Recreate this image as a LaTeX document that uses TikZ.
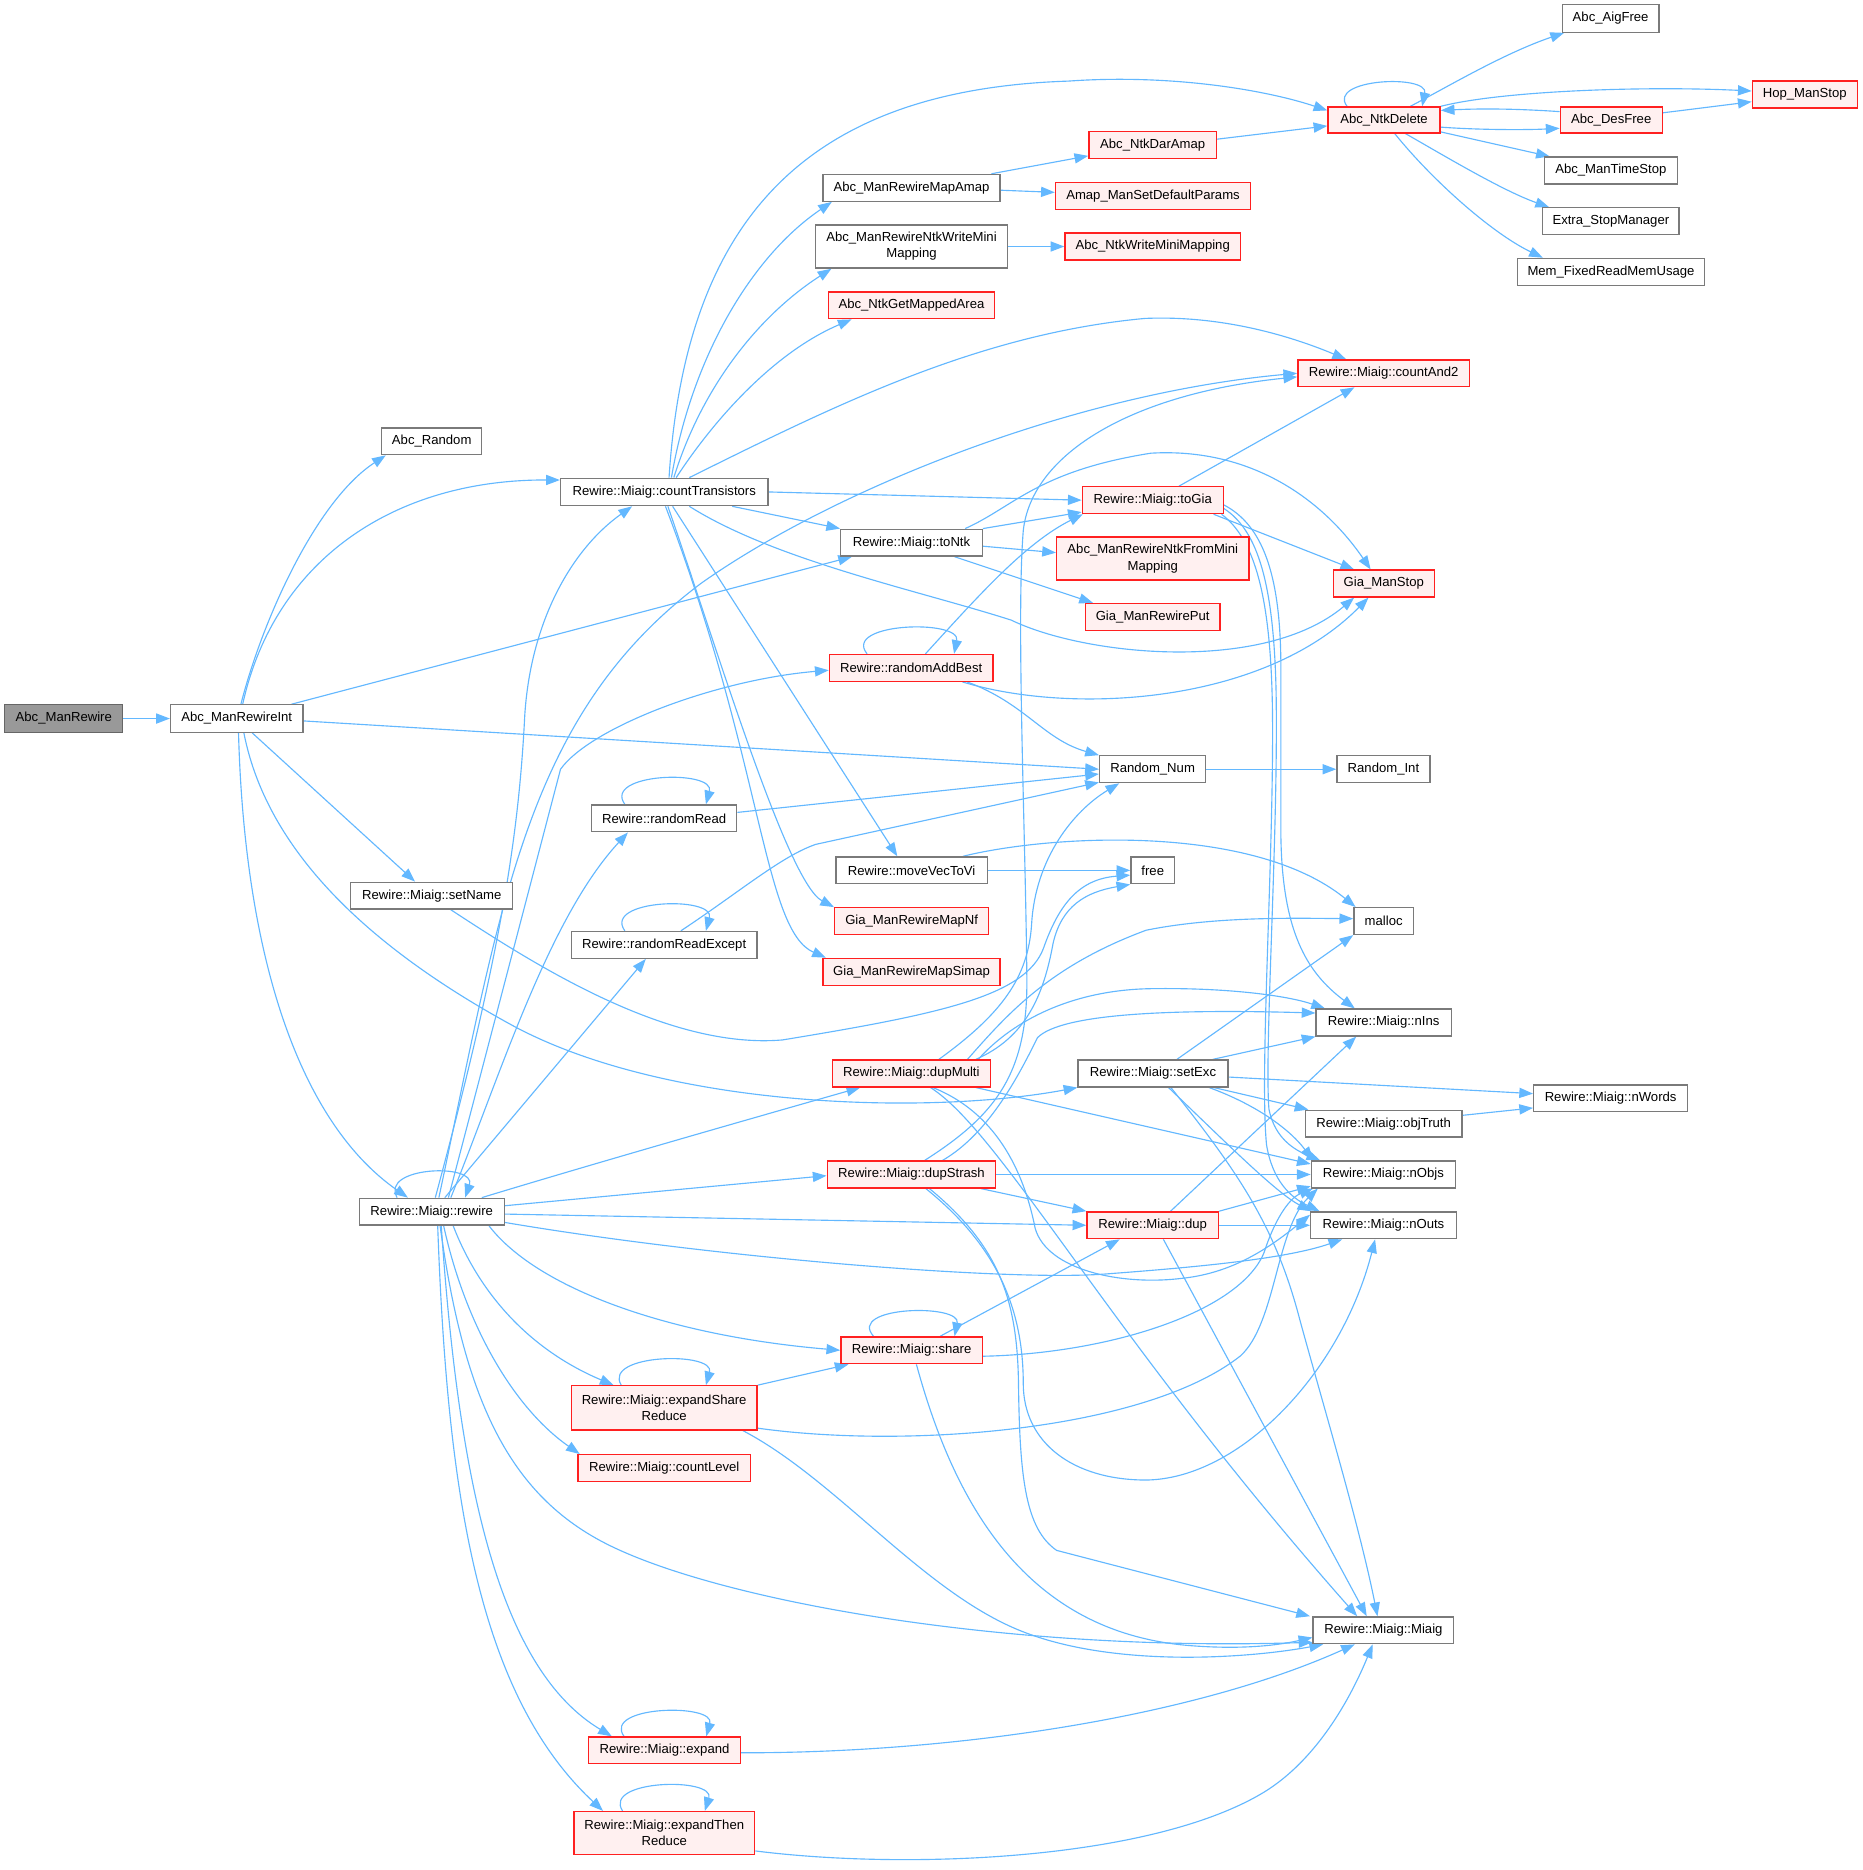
\documentclass[tikz,border=0pt]{standalone}
\usepackage{fontspec}
\setmainfont{Liberation Sans}
\usetikzlibrary{arrows.meta,backgrounds}
\definecolor{eblue}{HTML}{63B8FF}
\definecolor{rfill}{HTML}{FFF0F0}
\definecolor{gbord}{HTML}{7A7A7A}
\definecolor{rootfill}{HTML}{999999}
\definecolor{rootbord}{HTML}{666666}
\definecolor{rbord}{HTML}{FF2020}
\tikzset{
  nb/.style={draw=gbord, line width=1.1pt, fill=white, inner sep=0pt, minimum height=22.5pt,
             font=\fontsize{11}{13.5}\selectfont, align=center},
  nr/.style={nb, draw=rbord, fill=rfill},
  root/.style={nb, draw=rootbord, fill=rootfill},
  e/.style={draw=eblue, line width=0.95pt, -{Triangle[length=11.5pt,width=8.5pt]}},
}
\begin{document}
\begin{tikzpicture}[x=1pt,y=-1pt]
\useasboundingbox (0,0) rectangle (1562,1568);
% nodes
\node[root, minimum width=99pt, minimum height=23pt] (mr) at (53.5,602.5) {Abc\_ManRewire};
\node[nb, minimum width=111pt, minimum height=23pt] (mri) at (198.5,602.5) {Abc\_ManRewireInt};
\node[nb, minimum width=84pt] (rnd) at (362,370) {Abc\_Random};
\node[nb, minimum width=174pt, minimum height=23pt] (ct) at (557,412.5) {Rewire::Miaig::countTransistors};
\node[nb, minimum width=136pt] (sn) at (362,751) {Rewire::Miaig::setName};
\node[nb, minimum width=121.5pt] (rw) at (362,1016) {Rewire::Miaig::rewire};
\node[nb, minimum width=148.5pt] (amap) at (764.3,157.5) {Abc\_ManRewireMapAmap};
\node[nb, minimum width=161.3pt, minimum height=36.2pt] (wmm) at (764.3,206.7) {Abc\_ManRewireNtkWriteMini\\Mapping};
\node[nr, minimum width=139.3pt] (gma) at (764.3,256) {Abc\_NtkGetMappedArea};
\node[nb, minimum width=118.7pt] (tontk) at (764.3,455) {Rewire::Miaig::toNtk};
\node[nr, minimum width=137.2pt] (rab) at (764,560) {Rewire::randomAddBest};
\node[nb, minimum width=121.7pt] (rr) at (556.9,686.2) {Rewire::randomRead};
\node[nb, minimum width=155.7pt] (rre) at (556.9,792.3) {Rewire::randomReadExcept};
\node[nb, minimum width=126.8pt] (mv) at (764.4,729.8) {Rewire::moveVecToVi};
\node[nr, minimum width=129.1pt] (mnf) at (764.4,772.4) {Gia\_ManRewireMapNf};
\node[nr, minimum width=148.5pt] (msimap) at (764.3,814.8) {Gia\_ManRewireMapSimap};
\node[nr, minimum width=132.7pt] (dm) at (764.2,900.1) {Rewire::Miaig::dupMulti};
\node[nr, minimum width=141.4pt] (ds) at (764.3,984.8) {Rewire::Miaig::dupStrash};
\node[nr, minimum width=118.7pt] (sh) at (764.4,1132.2) {Rewire::Miaig::share};
\node[nr, minimum width=155.7pt, minimum height=37pt] (esr) at (556.9,1180.5) {Rewire::Miaig::expandShare\\Reduce};
\node[nr, minimum width=144.7pt] (cl) at (557,1231) {Rewire::Miaig::countLevel};
\node[nr, minimum width=127.3pt] (ex) at (557.2,1467.7) {Rewire::Miaig::expand};
\node[nr, minimum width=151.6pt, minimum height=36pt] (etr) at (557,1537) {Rewire::Miaig::expandThen\\Reduce};
\node[nr, minimum width=107pt] (dar) at (966.5,121.7) {Abc\_NtkDarAmap};
\node[nr, minimum width=163.6pt] (amsp) at (966.8,164.3) {Amap\_ManSetDefaultParams};
\node[nr, minimum width=147.1pt] (nwmm) at (966.5,206.7) {Abc\_NtkWriteMiniMapping};
\node[nr, minimum width=94pt, minimum height=21.8pt] (nd) at (1160.5,100.6) {Abc\_NtkDelete};
\node[nr, minimum width=143.9pt] (ca) at (1160.2,313) {Rewire::Miaig::countAnd2};
\node[nr, minimum width=118.2pt] (tg) at (966.6,419.4) {Rewire::Miaig::toGia};
\node[nr, minimum width=161.3pt, minimum height=36.1pt] (fmm) at (966.6,468.4) {Abc\_ManRewireNtkFromMini\\Mapping};
\node[nr, minimum width=113pt] (gp) at (966.5,517.3) {Gia\_ManRewirePut};
\node[nr, minimum width=84.6pt] (gs) at (1160.3,489.3) {Gia\_ManStop};
\node[nb, minimum width=89pt] (rn) at (966.5,645) {Random\_Num};
\node[nb, minimum width=78pt] (ri) at (1160,645) {Random\_Int};
\node[nb, minimum width=36.7pt] (fr) at (966.6,729.8) {free};
\node[nb, minimum width=50pt] (ml) at (1160.2,772.3) {malloc};
\node[nb, minimum width=113.3pt] (ni) at (1160.2,857.4) {Rewire::Miaig::nIns};
\node[nb, minimum width=125.8pt] (se) at (966.8,900.1) {Rewire::Miaig::setExc};
\node[nb, minimum width=131.1pt] (ot) at (1160.2,942.2) {Rewire::Miaig::objTruth};
\node[nb, minimum width=129pt] (nw) at (1350.5,921) {Rewire::Miaig::nWords};
\node[nb, minimum width=120.9pt] (no) at (1160,984.8) {Rewire::Miaig::nObjs};
\node[nr, minimum width=110.2pt] (dp) at (966.5,1027.4) {Rewire::Miaig::dup};
\node[nb, minimum width=122pt] (nou) at (1160,1027.4) {Rewire::Miaig::nOuts};
\node[nb, minimum width=118pt] (mg) at (1160,1367) {Rewire::Miaig::Miaig};
\node[nb, minimum width=81pt, minimum height=23pt] (af) at (1350.5,15.5) {Abc\_AigFree};
\node[nr, minimum width=88pt] (hop) at (1513.3,79.3) {Hop\_ManStop};
\node[nr, minimum width=85.5pt, minimum height=21.8pt] (df) at (1351,100.6) {Abc\_DesFree};
\node[nb, minimum width=111.3pt] (mts) at (1350.7,143) {Abc\_ManTimeStop};
\node[nb, minimum width=114.5pt] (esm) at (1350.7,185.5) {Extra\_StopManager};
\node[nb, minimum width=157.2pt] (mem) at (1350.8,227.9) {Mem\_FixedReadMemUsage};
% edges
\begin{scope}[on background layer]
\fill[white] (0,0) rectangle (1562,1568);
\draw[e] (mr.east) -- (mri.west);
\draw[e] ([xshift=3.5pt]mri.north) .. controls (220,520) and (265,420) .. ([xshift=4pt]rnd.south west);
\draw[e] ([xshift=5pt]mri.north) .. controls (230,470) and (330,402) .. ([yshift=10pt]ct.west);
\draw[e] ([xshift=46pt]mri.north) -- ([xshift=10pt]tontk.south west);
\draw[e] ([yshift=-2pt]mri.east) -- (rn.west);
\draw[e] ([xshift=13pt]mri.south) -- ([xshift=-14pt]sn.north);
\draw[e] ([xshift=1.5pt]mri.south) .. controls (205,800) and (250,940) .. ([xshift=-20pt]rw.north);
\draw[e] ([xshift=6pt]mri.south) .. controls (225,720) and (320,800) .. (430,860) .. controls (560,930) and (780,935) .. (se.south west);
% countTransistors
\draw[e] ([xshift=4pt]ct.north) .. controls (575,180) and (680,75) .. (896,68) .. controls (980,62) and (1060,75) .. ([yshift=8pt]nd.west);
\draw[e] ([xshift=6pt]ct.north) .. controls (580,300) and (630,215) .. ([xshift=8pt]amap.south west);
\draw[e] ([xshift=8pt]ct.north) .. controls (590,320) and (640,262) .. ([xshift=14pt]wmm.south west);
\draw[e] ([xshift=10pt]ct.north) .. controls (600,350) and (650,295) .. ([xshift=20pt]gma.south west);
\draw[e] ([xshift=21pt]ct.north) .. controls (700,340) and (820,280) .. (960,267) .. controls (1030,264) and (1090,285) .. ([xshift=41pt]ca.north west);
\draw[e] (ct.east) -- (tg.west);
\draw[e] ([xshift=57pt]ct.south) -- (tontk.north west);
\draw[e] ([xshift=21pt]ct.south) .. controls (650,470) and (770,495) .. (848,520) .. controls (910,550) and (1060,565) .. ([xshift=18pt]gs.south west);
\draw[e] ([xshift=7pt]ct.south) -- ([xshift=-12pt]mv.north);
\draw[e] ([xshift=3pt]ct.south) .. controls (600,540) and (660,740) .. (mnf.north west);
\draw[e] ([xshift=1pt]ct.south) .. controls (640,640) and (640,780) .. ([xshift=3pt]msimap.north west);
% mapping
\draw[e] ([xshift=67pt]amap.north) -- ([yshift=-9pt]dar.west);
\draw[e] ([yshift=-2pt]amap.east) -- ([yshift=3pt]amsp.west);
\draw[e] (wmm.east) -- (nwmm.west);
\draw[e] ([yshift=5pt]dar.east) -- ([yshift=-5pt]nd.west);
% NtkDelete
\draw[e] ([xshift=-31pt]nd.north) .. controls (1112,66) and (1198,62) .. ([xshift=32pt]nd.north);
\draw[e] ([xshift=22pt]nd.north) .. controls (1210,75) and (1260,45) .. ([xshift=2pt]af.south west);
\draw[e] (nd.north east) .. controls (1260,76) and (1380,72) .. ([yshift=3pt]hop.west);
\draw[e] ([yshift=7pt]df.west) .. controls (1270,91) and (1240,91) .. ([yshift=8pt]nd.east);
\draw[e] ([yshift=-6pt]nd.east) .. controls (1240,109) and (1280,109) .. ([yshift=-7pt]df.west);
\draw[e] ([yshift=6pt]df.east) -- ([yshift=-6pt]hop.west);
\draw[e] ([yshift=-10pt]nd.east) -- ([xshift=5pt]mts.north west);
\draw[e] ([xshift=18pt]nd.south) .. controls (1210,130) and (1260,160) .. ([xshift=6pt]esm.north west);
\draw[e] ([xshift=9pt]nd.south) .. controls (1200,150) and (1250,195) .. ([xshift=22pt]mem.north west);
% toNtk
\draw[e] (tontk.north east) -- ([yshift=-10pt]tg.west);
\draw[e] ([yshift=-3pt]tontk.east) -- ([yshift=5pt]fmm.west);
\draw[e] ([xshift=36pt]tontk.south) -- ([xshift=7pt]gp.north west);
\draw[e] ([xshift=45pt]tontk.north) .. controls (850,425) and (870,395) .. (965,380) .. controls (1050,375) and (1110,420) .. ([xshift=-11pt]gs.north);
% toGia
\draw[e] ([xshift=22pt]tg.north) -- ([xshift=48pt]ca.south west);
\draw[e] ([xshift=51pt]tg.south) -- ([xshift=18pt]gs.north west);
\draw[e] ([yshift=-4pt]tg.east) .. controls (1058,440) and (1074,480) .. (1074,560) -- (1074,700) .. controls (1075,780) and (1095,815) .. ([xshift=33pt]ni.north west);
\draw[e] ([yshift=-7pt]tg.east) .. controls (1055,445) and (1068,490) .. (1070,580) .. controls (1072,700) and (1060,880) .. (1064,930) .. controls (1068,950) and (1080,962) .. ([xshift=8pt]no.north west);
\draw[e] ([xshift=-2pt]tg.south east) .. controls (1052,452) and (1066,500) .. (1067,600) .. controls (1068,720) and (1056,900) .. (1062,960) .. controls (1067,990) and (1082,1004) .. ([xshift=8pt]nou.north west);
% randomAddBest
\draw[e] ([xshift=-37pt]rab.north) .. controls (706,522) and (806,519) .. ([xshift=36pt]rab.north);
\draw[e] ([xshift=12pt]rab.north) .. controls (820,500) and (860,455) .. ([xshift=1pt]tg.south west);
\draw[e] ([xshift=43pt]rab.south) .. controls (900,600) and (1060,590) .. ([xshift=30pt]gs.south west);
\draw[e] ([xshift=47pt]rab.south) .. controls (860,590) and (875,620) .. (rn.north west);
\draw[e] (rn.east) -- (ri.west);
% randomRead
\draw[e] ([xshift=-33pt]rr.north) .. controls (505,648) and (600,645) .. ([xshift=35pt]rr.north);
\draw[e] ([yshift=5pt]rr.east) -- ([yshift=-4pt]rn.west);
\draw[e] ([xshift=-33pt]rre.north) .. controls (505,754) and (600,751) .. ([xshift=35pt]rre.north);
\draw[e] ([xshift=14pt]rre.north) .. controls (620,748) and (655,718) .. (684,708) -- ([yshift=-11pt]rn.west);
% moveVecToVi / setName
\draw[e] (mv.east) -- (fr.west);
\draw[e] ([xshift=43pt]mv.north) .. controls (880,700) and (1050,690) .. ([xshift=2pt]ml.north west);
\draw[e] ([xshift=16pt]sn.south) .. controls (450,810) and (560,880) .. (656,872) .. controls (790,850) and (860,835) .. (875,795) .. controls (888,758) and (905,737) .. ([yshift=-4pt]fr.west);
% dupMulti
\draw[e] ([xshift=54pt]dm.north) .. controls (860,870) and (875,835) .. (883,791) .. controls (890,760) and (910,748) .. (fr.south west);
\draw[e] ([xshift=23pt]dm.north) .. controls (840,850) and (862,820) .. (865,775) .. controls (868,720) and (900,680) .. ([xshift=17pt]rn.south west);
\draw[e] ([xshift=47pt]dm.north) .. controls (845,850) and (880,810) .. (961,780) .. controls (1020,768) and (1090,770) .. ([yshift=2pt]ml.west);
\draw[e] ([xshift=56pt]dm.north) .. controls (850,855) and (900,830) .. (965,829) .. controls (1030,828) and (1080,835) .. ([xshift=8pt]ni.north west);
\draw[e] ([xshift=54pt]dm.south) -- ([yshift=-3pt]no.north west);
\draw[e] ([xshift=18pt]dm.south) .. controls (840,935) and (860,990) .. (868,1030) .. controls (878,1065) and (940,1078) .. (990,1072) .. controls (1030,1068) and (1060,1050) .. ([yshift=-3pt]nou.north west);
\draw[e] ([xshift=16pt]dm.south) .. controls (840,950) and (930,1120) .. ([xshift=-22pt]mg.north);
% dupStrash
\draw[e] ([xshift=11pt]ds.north) .. controls (835,935) and (862,900) .. (861,820) .. controls (860,700) and (852,520) .. (858,445) .. controls (865,380) and (950,330) .. ([yshift=-3pt]ca.west);
\draw[e] ([xshift=26pt]ds.north) .. controls (830,950) and (855,900) .. (870,870) .. controls (890,850) and (980,846) .. ([yshift=8pt]ni.west);
\draw[e] (ds.east) -- (no.west);
\draw[e] ([xshift=58pt]ds.south) -- (dp.north west);
\draw[e] ([xshift=12pt]ds.south) .. controls (830,1040) and (858,1090) .. (858,1160) .. controls (858,1210) and (900,1241) .. (961,1241) .. controls (1040,1240) and (1125,1150) .. ([xshift=-7pt]nou.south);
\draw[e] ([xshift=15pt]ds.south) .. controls (838,1045) and (853,1090) .. (854,1160) .. controls (855,1240) and (860,1282) .. (886,1300) -- ([xshift=-2pt]mg.north west);
% setExc
\draw[e] ([xshift=20pt]se.north) -- (ml.south west);
\draw[e] ([xshift=50pt]se.north) -- (ni.south west);
\draw[e] ([yshift=-3pt]se.east) -- ([yshift=4pt]nw.west);
\draw[e] ([xshift=51pt]se.south) -- ([xshift=3pt]ot.north west);
\draw[e] ([xshift=47pt]se.south) .. controls (1050,925) and (1080,945) .. ([xshift=2pt]no.north west);
\draw[e] ([xshift=13pt]se.south) .. controls (1030,960) and (1070,1000) .. ([xshift=1pt]nou.north west);
\draw[e] ([xshift=15pt]se.south) .. controls (1040,985) and (1070,1030) .. (1090,1107) .. controls (1110,1180) and (1140,1280) .. ([xshift=-5pt]mg.north);
\draw[e] ([yshift=7pt]ot.east) -- ([yshift=-8pt]nw.west);
% dup
\draw[e] ([xshift=15pt]dp.north) -- ([xshift=-23pt]ni.south);
\draw[e] (dp.north east) -- ([yshift=2pt]no.south west);
\draw[e] (dp.east) -- (nou.west);
\draw[e] ([xshift=9pt]dp.south) -- ([xshift=-14pt]mg.north);
% share
\draw[e] ([xshift=-32pt]sh.north) .. controls (710,1095) and (806,1093) .. ([xshift=36pt]sh.north);
\draw[e] ([xshift=24pt]sh.north) -- ([xshift=28pt]dp.south west);
\draw[e] ([yshift=-5pt]sh.east) .. controls (930,1135) and (1040,1100) .. (1060,1050) .. controls (1068,1025) and (1080,1005) .. ([xshift=2pt]no.south west);
\draw[e] ([xshift=4pt]sh.south) .. controls (800,1260) and (860,1370) .. (1000,1380) .. controls (1040,1383) and (1070,1380) .. ([yshift=-6pt]mg.west);
% expandShareReduce
\draw[e] ([xshift=-36pt]esr.north) .. controls (505,1135) and (600,1133) .. ([xshift=35pt]esr.north);
\draw[e] (esr.north east) -- ([xshift=7pt]sh.south west);
\draw[e] ([yshift=-17pt]esr.east) .. controls (760,1215) and (960,1200) .. (1040,1137) .. controls (1070,1110) and (1070,1030) .. ([xshift=6pt]no.south west);
\draw[e] ([xshift=66pt]esr.south) .. controls (700,1240) and (770,1330) .. (850,1365) .. controls (930,1400) and (1050,1390) .. ([xshift=9pt]mg.south west);
% expand
\draw[e] ([xshift=-34pt]ex.north) .. controls (505,1430) and (600,1428) .. ([xshift=35pt]ex.north);
\draw[e] ([yshift=-2pt]ex.east) .. controls (800,1470) and (1000,1440) .. ([xshift=-24pt]mg.south);
\draw[e] ([xshift=-35pt]etr.north) .. controls (505,1492) and (600,1490) .. ([xshift=34pt]etr.north);
\draw[e] ([yshift=-15pt]etr.east) .. controls (760,1568) and (960,1560) .. (1056,1505) .. controls (1100,1480) and (1130,1430) .. ([xshift=-9pt]mg.south);
% rewire
\draw[e] ([xshift=-29pt]rw.north) .. controls (318,978) and (400,975) .. ([xshift=28pt]rw.north);
\draw[e] ([xshift=3pt]rw.north) .. controls (420,800) and (435,700) .. (440,600) .. controls (445,520) and (480,460) .. ([xshift=-27pt]ct.south);
\draw[e] ([xshift=6pt]rw.north) .. controls (420,760) and (440,600) .. (588,489) .. controls (700,410) and (900,330) .. (ca.west);
\draw[e] ([xshift=14pt]rw.north) -- (470,645) .. controls (495,610) and (600,570) .. ([yshift=-2pt]rab.west);
\draw[e] ([xshift=16pt]rw.north) .. controls (420,900) and (460,770) .. ([xshift=31pt]rr.south west);
\draw[e] ([xshift=11pt]rw.north) -- ([xshift=63pt]rre.south west);
\draw[e] ([xshift=42pt]rw.north) .. controls (500,975) and (640,935) .. ([xshift=24pt]dm.south west);
\draw[e] ([yshift=5pt]rw.east) -- ([yshift=-1pt]ds.west);
\draw[e] ([yshift=-2pt]rw.east) -- (dp.west);
\draw[e] ([yshift=-9pt]rw.east) .. controls (600,1055) and (850,1075) .. (930,1068) .. controls (1010,1062) and (1080,1055) .. ([xshift=27pt]nou.south west);
\draw[e] ([xshift=48pt]rw.south) .. controls (450,1080) and (560,1120) .. (sh.west);
\draw[e] ([xshift=18pt]rw.south) .. controls (400,1080) and (440,1130) .. ([xshift=36pt]esr.north west);
\draw[e] ([xshift=10pt]rw.south) .. controls (390,1110) and (430,1180) .. ([xshift=2pt]cl.north west);
\draw[e] ([xshift=7pt]rw.south) .. controls (390,1180) and (430,1260) .. (520,1300) .. controls (620,1345) and (850,1385) .. ([yshift=-10pt]mg.west);
\draw[e] ([xshift=8pt]rw.south) .. controls (385,1250) and (420,1400) .. ([xshift=20pt]ex.north west);
\draw[e] ([xshift=5pt]rw.south) .. controls (375,1250) and (400,1420) .. ([xshift=25pt]etr.north west);
\end{scope}
\end{tikzpicture}
\end{document}
